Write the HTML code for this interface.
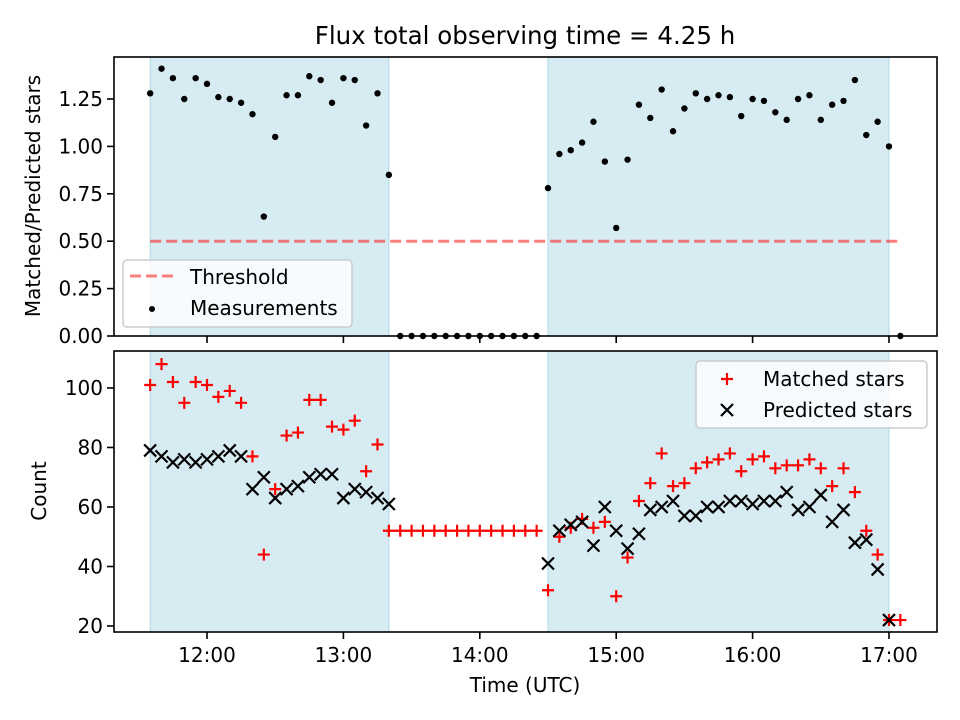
<!DOCTYPE html>
<html><head><meta charset="utf-8"><style>
html,body{margin:0;padding:0;background:#fff;}
svg{display:block;font-family:"DejaVu Sans","Liberation Sans",sans-serif;}
</style></head><body>
<svg id="chart" width="960" height="720" viewBox="0 0 960 720" xmlns="http://www.w3.org/2000/svg">
<text x="525" y="44" font-size="24.5" text-anchor="middle" fill="#000">Flux total observing time = 4.25 h</text>
<text x="525" y="692" font-size="20" text-anchor="middle" fill="#000">Time (UTC)</text>
<text transform="translate(40,196) rotate(-90)" font-size="20" text-anchor="middle" fill="#000">Matched/Predicted stars</text>
<text transform="translate(46,491) rotate(-90)" font-size="20" text-anchor="middle" fill="#000">Count</text>
<g id="topPanel"></g>
<g id="botPanel"></g>
</svg>
<script>
// ---- data ----
const startHour = 11 + 35/60;
const stepMinutes = 5;
const ratioValues = [1.28,1.41,1.36,1.25,1.36,1.33,1.26,1.25,1.23,1.17,0.63,1.05,1.27,1.27,1.37,1.35,1.23,1.36,1.35,1.11,1.28,0.85,
0,0,0,0,0,0,0,0,0,0,0,0,0,
0.78,0.96,0.98,1.02,1.13,0.92,0.57,0.93,1.22,1.15,1.30,1.08,1.20,1.28,1.25,1.27,1.26,1.16,1.25,1.24,1.18,1.14,1.25,1.27,1.14,1.22,1.24,1.35,1.06,1.13,1.00,0];
const matchedValues = [101,108,102,95,102,101,97,99,95,77,44,66,84,85,96,96,87,86,89,72,81,52,
52,52,52,52,52,52,52,52,52,52,52,52,52,
32,50,53,56,53,55,30,43,62,68,78,67,68,73,75,76,78,72,76,77,73,74,74,76,73,67,73,65,52,44,22,22];
const predictedValues = [79,77,75,76,75,76,77,79,77,66,70,63,66,67,70,71,71,63,66,65,63,61,
null,null,null,null,null,null,null,null,null,null,null,null,null,
41,52,54,55,47,60,52,46,51,59,60,62,57,57,60,60,62,62,61,62,62,65,59,60,64,55,59,48,49,39,22,null];
const observingSpans = [[11+35/60, 13+20/60],[14.5, 17.0]];
const threshold = 0.5;
const thresholdSpan = [11+35/60, 17+5/60];
const xTicks = [12,13,14,15,16,17];
const xTickLabels = ["12:00","13:00","14:00","15:00","16:00","17:00"];
const ratioTicks = [0,0.25,0.5,0.75,1.0,1.25];
const ratioTickLabels = ["0.00","0.25","0.50","0.75","1.00","1.25"];
const countTicks = [20,40,60,80,100];
const countTickLabels = ["20","40","60","80","100"];

// ---- geometry ----
const L=114,R=937, T1=57,B1=336, T2=351,B2=632;
const xs = t => 207 + (t-12)*136.4;
const y1 = v => B1 - (v/1.4715)*(B1-T1);
const y2 = v => B2 - ((v-17.98)/(112.42-17.98))*(B2-T2);
const NS="http://www.w3.org/2000/svg";
function mk(parent, tag, attrs){const e=document.createElementNS(NS,tag);for(const k in attrs)e.setAttribute(k,attrs[k]);parent.appendChild(e);return e;}
const timeAt = i => startHour + i*stepMinutes/60;

function panel(g, T, B, ys, yt, ytl, labelX){
  observingSpans.forEach(s=>{
    const r=mk(g,'rect',{x:xs(s[0]),y:T,width:xs(s[1])-xs(s[0]),height:B-T,fill:'#add8e6','fill-opacity':0.5,stroke:'#add8e6','stroke-width':1});
    
    
  });
  yt.forEach((v,i)=>{
    const y=ys(v);
    const t=mk(g,'line',{x1:L-7,x2:L,y1:y,y2:y,stroke:'#000','stroke-width':1.6});
    
    
    const tx=mk(g,'text',{x:L-11,y:y+7,'font-size':20,'text-anchor':'end',fill:'#000'});
    tx.textContent=ytl[i];
    
    
  });
  xTicks.forEach((v,i)=>{
    const x=xs(v);
    const t=mk(g,'line',{x1:x,x2:x,y1:B,y2:B+7,stroke:'#000','stroke-width':1.6});
    
    
    if(labelX){
      const tx=mk(g,'text',{x:x,y:B+30,'font-size':20,'text-anchor':'middle',fill:'#000'});
      tx.textContent=xTickLabels[i];
      
      
    }
  });
}
const topG=document.getElementById('topPanel'), botG=document.getElementById('botPanel');
panel(topG,T1,B1,y1,ratioTicks,ratioTickLabels,false);
panel(botG,T2,B2,y2,countTicks,countTickLabels,true);

const th=mk(topG,'line',{x1:xs(thresholdSpan[0]),x2:xs(thresholdSpan[1]),y1:y1(threshold),y2:y1(threshold),stroke:'#ff0000','stroke-opacity':0.5,'stroke-width':3,'stroke-dasharray':'11 5'});



ratioValues.forEach((v,i)=>{
  const c=mk(topG,'circle',{cx:xs(timeAt(i)),cy:y1(v),r:3.2,fill:'#000'});
  
  
});
function plus(g,x,y){return mk(g,'path',{d:`M${x-6} ${y}H${x+6}M${x} ${y-6}V${y+6}`,stroke:'#ff0000','stroke-width':2.2,fill:'none'});}
function cross(g,x,y){return mk(g,'path',{d:`M${x-6} ${y-6}L${x+6} ${y+6}M${x-6} ${y+6}L${x+6} ${y-6}`,stroke:'#000','stroke-width':2.2,fill:'none'});}
matchedValues.forEach((v,i)=>{
  const p=plus(botG,xs(timeAt(i)),y2(v));
  
  
});
predictedValues.forEach((v,i)=>{
  if(v===null) return;
  const p=cross(botG,xs(timeAt(i)),y2(v));
  
  
});

[[T1,B1,topG],[T2,B2,botG]].forEach(a=>{
  const f=mk(a[2],'rect',{x:L,y:a[0],width:R-L,height:a[1]-a[0],fill:'none',stroke:'#000','stroke-width':1.6});
  
  
});

const lg1=mk(topG,'g',{});


mk(lg1,'rect',{x:123,y:260,width:229,height:67,rx:4,fill:'#fff','fill-opacity':0.8,stroke:'#ccc','stroke-width':1.5});
mk(lg1,'line',{x1:130,x2:173,y1:276,y2:276,stroke:'#ff0000','stroke-opacity':0.5,'stroke-width':3,'stroke-dasharray':'11 5'});
const t1=mk(lg1,'text',{x:190,y:284,'font-size':20,fill:'#000'});t1.textContent='Threshold';
mk(lg1,'circle',{cx:152,cy:309,r:3,fill:'#000'});
const t2=mk(lg1,'text',{x:190,y:315,'font-size':20,fill:'#000'});t2.textContent='Measurements';

const lg2=mk(botG,'g',{});


mk(lg2,'rect',{x:696,y:361,width:231,height:67,rx:4,fill:'#fff','fill-opacity':0.8,stroke:'#ccc','stroke-width':1.5});
plus(lg2,727,379);
const t3=mk(lg2,'text',{x:763,y:386,'font-size':20,fill:'#000'});t3.textContent='Matched stars';
cross(lg2,727,410);
const t4=mk(lg2,'text',{x:763,y:417,'font-size':20,fill:'#000'});t4.textContent='Predicted stars';
</script>
</body></html>
